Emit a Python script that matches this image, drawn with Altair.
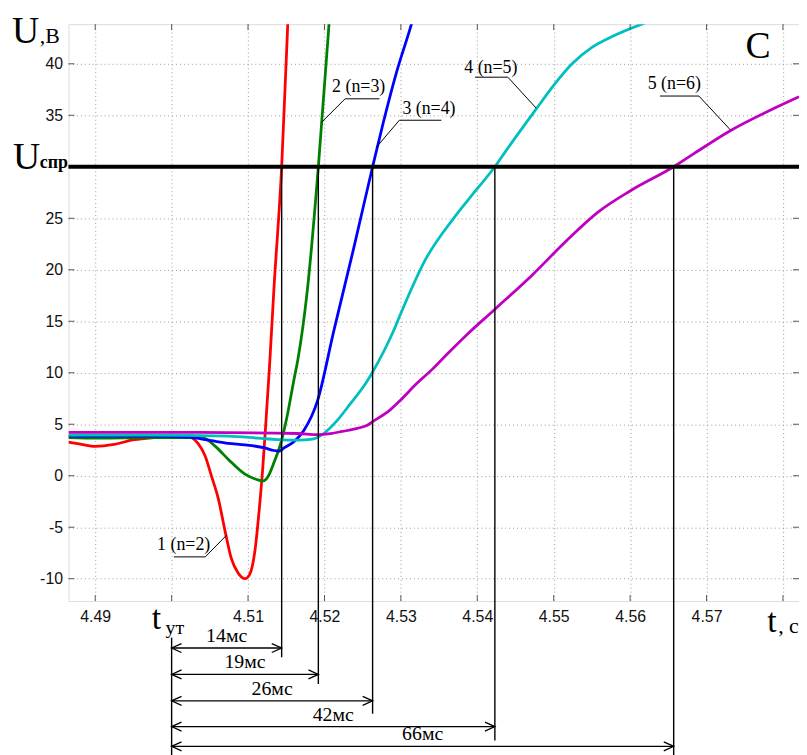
import altair as alt
import pandas as pd

# ---------------- values ----------------
T_UT = 4.50      # moment t_ут, s
U_SPR = 30       # threshold U_спр, V

series_names = ["1 (n=2)", "2 (n=3)", "3 (n=4)", "4 (n=5)", "5 (n=6)"]
series_colors = ["#ff0000", "#008000", "#0000ff", "#00bfbf", "#bf00bf"]

t1 = [4.4865, 4.4882, 4.4900, 4.4925, 4.4951, 4.4977, 4.5003, 4.5022, 4.5026, 4.5035,
      4.5044, 4.5052, 4.5061, 4.5070, 4.5078, 4.5087, 4.5096, 4.5102, 4.5109, 4.5115,
      4.5119, 4.5123, 4.5128, 4.5134, 4.5144, 4.5152, 4.5154]
u1 = [3.27, 3.05, 2.86, 3.05, 3.5, 3.7, 3.8, 3.8, 3.7, 3.1,
      1.9, 0.0, -2.2, -5.4, -8.0, -9.45, -10.0, -9.6, -7.3, -3.0,
      0.5, 4.8, 10.5, 18.3, 30.0, 43.9, 47.0]

t2 = [4.4865, 4.4905, 4.4970, 4.5035, 4.5044, 4.5058, 4.5074, 4.5096, 4.5113, 4.5120,
      4.5126, 4.5134, 4.5143, 4.5152, 4.5160, 4.5165, 4.5178, 4.5192, 4.5206, 4.5209]
u2 = [3.7, 3.65, 3.7, 3.7, 3.6, 2.8, 1.6, 0.15, -0.4, -0.5,
      -0.1, 1.3, 3.2, 6.1, 9.3, 11.2, 18.3, 30.0, 43.9, 47.0]

t3 = [4.4865, 4.4970, 4.5022, 4.5052, 4.5074, 4.5096, 4.5122, 4.5134, 4.5141, 4.5147,
      4.5160, 4.5173, 4.5191, 4.5212, 4.5238, 4.5263, 4.5277, 4.5294, 4.5314, 4.5320]
u3 = [3.85, 3.85, 3.75, 3.4, 3.15, 3.0, 2.7, 2.45, 2.4, 2.7,
      3.3, 4.4, 7.3, 14.0, 22.0, 30.0, 34.3, 39.1, 43.9, 45.5]

t4 = [4.4865, 4.4970, 4.5074, 4.5113, 4.5139, 4.5165, 4.5184, 4.5199, 4.5217, 4.5234,
      4.5256, 4.5264, 4.5290, 4.5299, 4.5333, 4.5368, 4.5398, 4.5423, 4.5437, 4.5476,
      4.5502, 4.5524, 4.5550, 4.5575, 4.5617, 4.5632]
u4 = [3.95, 3.95, 3.85, 3.65, 3.5, 3.45, 3.55, 4.1, 5.4, 7.0,
      9.2, 10.2, 14.0, 15.6, 21.1, 24.9, 27.7, 30.0, 31.5, 35.5,
      38.1, 40.0, 41.6, 42.6, 43.9, 44.3]

t5 = [4.4865, 4.5035, 4.5165, 4.5191, 4.5208, 4.5223, 4.5243, 4.5256, 4.5264, 4.5286,
      4.5299, 4.5320, 4.5342, 4.5359, 4.5385, 4.5422, 4.5472, 4.5515, 4.5558, 4.5601,
      4.5657, 4.5684, 4.5731, 4.5792, 4.5821]
u5 = [4.2, 4.2, 4.1, 4.0, 4.1, 4.3, 4.6, 4.9, 5.3, 6.4,
      7.3, 8.9, 10.4, 11.7, 13.6, 16.1, 19.5, 22.7, 25.6, 27.7,
      30.0, 31.3, 33.5, 35.8, 36.8]

cross_t = [4.5144, 4.5192, 4.5263, 4.5423, 4.5657]
delay_labels = ["14мс", "19мс", "26мс", "42мс", "66мс"]

x_ticks = [4.49, 4.50, 4.51, 4.52, 4.53, 4.54, 4.55, 4.56, 4.57, 4.58]
y_ticks = [-10, -5, 0, 5, 10, 15, 20, 25, 30, 35, 40]

# annotation placement (in axis units, below the plot area)
arrow_rows = [-16.73, -19.29, -21.86, -24.36, -26.28]
line_bottoms = [-17.63, -20.22, -23.11, -25.70, -27.2]
tut_line = [-15.72, -27.2]

callout_text_t = [4.4981, 4.5210, 4.5302, 4.5383, 4.5623]
callout_text_u = [-7.24, 37.25, 35.16, 39.1, 37.6]
callout_path_t = [[4.5003, 4.5044, 4.5072], [4.5272, 4.5227, 4.5196], [4.5353, 4.5298, 4.5268],
                  [4.5397, 4.5440, 4.5477], [4.5639, 4.5690, 4.5731]]
callout_path_u = [[-7.88, -7.88, -5.77], [36.6, 36.6, 34.3], [34.52, 34.52, 31.9],
                  [38.7, 38.7, 35.7], [36.87, 36.87, 33.6]]

# ---------------- build tables ----------------
rows = []
for name, ts, us in zip(series_names, [t1, t2, t3, t4, t5], [u1, u2, u3, u4, u5]):
    for i, (t, u) in enumerate(zip(ts, us)):
        rows.append({"s": name, "t": t, "U": u, "i": i})
curves_df = pd.DataFrame(rows)

vlines_df = pd.DataFrame({"t": cross_t, "top": [U_SPR] * 5, "bot": line_bottoms})
arrows_df = pd.DataFrame({
    "t0": [T_UT] * 5, "t1": cross_t, "ya": arrow_rows, "lab": delay_labels,
})
arrows_df["mid"] = (arrows_df["t0"] + arrows_df["t1"]) / 2
arrows_df["yl"] = arrows_df["ya"] + 0.58

call_rows = []
for k, (ts, us) in enumerate(zip(callout_path_t, callout_path_u)):
    for i, (t, u) in enumerate(zip(ts, us)):
        call_rows.append({"k": k, "i": i, "t": t, "U": u})
call_df = pd.DataFrame(call_rows)
call_txt_df = pd.DataFrame({"t": callout_text_t, "U": callout_text_u, "txt": series_names})

SERIF = "Liberation Serif"
SANS = "Liberation Sans"

xs = alt.Scale(domain=[4.4865, 4.5821], nice=False, zero=False)
ys = alt.Scale(domain=[-12.17, 43.85], nice=False, zero=False)

axis_x = alt.Axis(values=x_ticks, grid=True, ticks=False, tickSize=0, domain=False, title=None,
                  labelExpr="(abs(datum.value-4.5)<1e-6 || abs(datum.value-4.58)<1e-6) ? '' : format(datum.value, '.2f')",
                  labelFont=SANS, labelFontSize=16, labelColor="#111", labelPadding=8,
                  gridColor="#9a9a9a", gridDash=[1, 3], gridWidth=1, labelFlush=False)
axis_y = alt.Axis(values=y_ticks, grid=True, ticks=False, tickSize=0, domain=False, title=None,
                  labelExpr="abs(datum.value-30)<1e-6 ? '' : ('' + datum.value)",
                  labelFont=SANS, labelFontSize=16, labelColor="#111", labelPadding=6,
                  gridColor="#9a9a9a", gridDash=[1, 3], gridWidth=1, labelFlush=False)


def X(f):
    return alt.X(f, type="quantitative", scale=xs, axis=axis_x)


def Y(f):
    return alt.Y(f, type="quantitative", scale=ys, axis=axis_y)


curves = alt.Chart(curves_df).mark_line(strokeWidth=2.8, clip=True, interpolate="monotone").encode(
    x=X("t"),
    y=Y("U"),
    color=alt.Color("s:N", scale=alt.Scale(domain=series_names, range=series_colors), legend=None),
    order="i:Q",
)

# inward ticks
xt_df = pd.DataFrame({"t": x_ticks})
yt_df = pd.DataFrame({"U": y_ticks})
tick_b = alt.Chart(xt_df).mark_rule(color="#555").encode(x=X("t"), y=alt.value(582), y2=alt.value(576))
tick_t = alt.Chart(xt_df).mark_rule(color="#555").encode(x=X("t"), y=alt.value(0), y2=alt.value(6))
tick_l = alt.Chart(yt_df).mark_rule(color="#555").encode(y=Y("U"), x=alt.value(0), x2=alt.value(6))
tick_r = alt.Chart(yt_df).mark_rule(color="#555").encode(y=Y("U"), x=alt.value(737), x2=alt.value(731))

spr = alt.Chart(pd.DataFrame({"U": [U_SPR]})).mark_rule(color="black", strokeWidth=4).encode(y=Y("U"))

vlines = alt.Chart(vlines_df).mark_rule(color="black", strokeWidth=1.4, clip=False).encode(
    x=X("t"), y=Y("top"), y2=alt.Y2("bot"))
tut = alt.Chart(pd.DataFrame({"t": [T_UT], "a": [tut_line[0]], "b": [tut_line[1]]})).mark_rule(
    color="black", strokeWidth=1.4, clip=False).encode(x=X("t"), y=Y("a"), y2=alt.Y2("b"))

arrows = alt.Chart(arrows_df).mark_rule(color="black", strokeWidth=1.3, clip=False).encode(
    x=X("t0"), x2=alt.X2("t1"), y=Y("ya"))
head_l = alt.Chart(arrows_df).mark_point(shape="M1,-0.45L0,0L1,0.45", size=400, filled=False,
                                          color="black", strokeWidth=1.3, opacity=1, clip=False).encode(
    x=X("t0"), y=Y("ya"))
head_r = alt.Chart(arrows_df).mark_point(shape="M-1,-0.45L0,0L-1,0.45", size=400, filled=False,
                                          color="black", strokeWidth=1.3, opacity=1, clip=False).encode(
    x=X("t1"), y=Y("ya"))
arrow_txt = alt.Chart(arrows_df).mark_text(font=SERIF, fontSize=20, align="center", baseline="alphabetic",
                                           color="black", clip=False).encode(
    x=X("mid"), y=Y("yl"), text="lab:N")

call_lines = alt.Chart(call_df).mark_line(color="black", strokeWidth=1).encode(
    x=X("t"), y=Y("U"), detail="k:N", order="i:Q")
call_txt = alt.Chart(call_txt_df).mark_text(font=SERIF, fontSize=18, align="left", baseline="alphabetic",
                                            color="black").encode(x=X("t"), y=Y("U"), text="txt:N")

one = pd.DataFrame({"a": [0]})


def label(text, px, py, size, bold=False):
    return alt.Chart(one).mark_text(text=text, font=SERIF, fontSize=size, align="left",
                                    baseline="alphabetic", color="black", clip=False,
                                    fontWeight="bold" if bold else "normal").encode(
        x=alt.value(px), y=alt.value(py))


labels = [
    label("U", -57, 19, 38), label(",В", -29, 19, 22),
    label("U", -56, 146, 38), label("спр", -29, 145.5, 18, bold=True),
    label("t", 84, 610, 34), label("ут", 98, 615, 20),
    label("t", 705, 613, 34), label(", c", 716, 614, 22),
    label("C", 683, 34, 38),
]

chart = alt.layer(
    curves, tick_b, tick_t, tick_l, tick_r, vlines, tut, spr,
    arrows, head_l, head_r, arrow_txt, call_lines, call_txt, *labels
).properties(
    width=737, height=582,
    autosize=alt.AutoSizeParams(type="none"),
    padding={"left": 61, "top": 13, "right": 0, "bottom": 152},
).configure_view(stroke="#555", strokeWidth=1).configure(background="white")

chart.save("out.html", embed_options={"renderer": "svg", "actions": False})
